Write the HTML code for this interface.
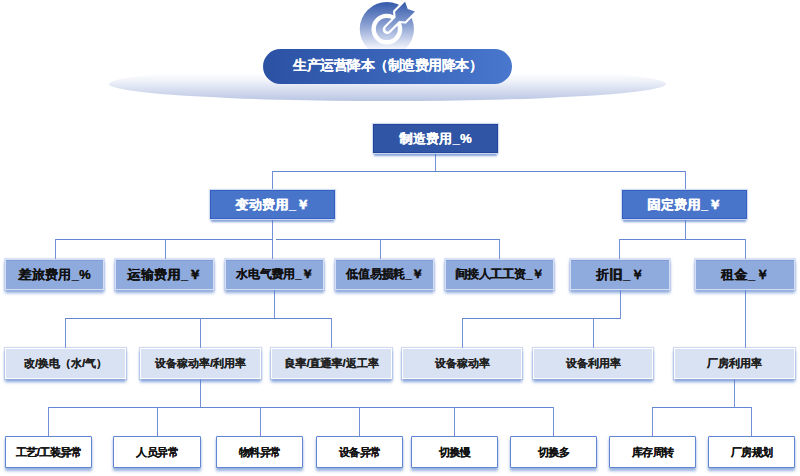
<!DOCTYPE html>
<html><head><meta charset="utf-8">
<style>
html,body{margin:0;padding:0;background:#fff;}
body{width:800px;height:476px;position:relative;overflow:hidden;font-family:"Liberation Sans",sans-serif;}
i{position:absolute;display:block;background:#6386d3;}
i.v{background:#7290d8;}
.box{position:absolute;box-sizing:border-box;display:flex;align-items:center;justify-content:center;font-weight:bold;white-space:nowrap;text-shadow:0.35px 0 0 currentColor;padding-top:1px;}
.l1{background:#2F55A4;color:#fff;font-size:13px;letter-spacing:0.3px;border:1px solid #23449a;box-shadow:0 0 0 1px rgba(208,218,240,.95),0 4px 2px -1px rgba(68,114,196,.65),0 0 2px 1px rgba(68,114,196,.12);}
.l2{background:#4874CA;color:#fff;font-size:13px;letter-spacing:0.3px;border:1px solid #3460c6;box-shadow:0 0 0 1px rgba(208,218,240,.95),0 4px 2px -1px rgba(68,114,196,.65),0 0 2px 1px rgba(68,114,196,.12);}
.l3{background:#8FAADC;color:#111;font-size:13px;letter-spacing:0.3px;border:1px solid #d5def3;box-shadow:inset 0 1px 0 #7f9dd9,0 0 1px 1px rgba(150,175,225,.35),0 3px 3px 0 rgba(68,114,196,.6);}
.l3.t{letter-spacing:0.6px;}
.l3.s{font-size:12px;letter-spacing:-0.25px;padding-top:0;}
.l4{background:#D9E2F3;color:#222;font-size:11px;letter-spacing:0;padding-top:0;border:1px solid #fff;box-shadow:0 0 1px 1px rgba(150,175,225,.45),0 3px 3px 0 rgba(68,114,196,.65);}
.l5{background:#fff;color:#111;font-size:11px;letter-spacing:-0.5px;border:1px solid #5f85d3;border-radius:1px;box-shadow:0 3px 3px 0 rgba(68,114,196,.55),0 0 1px rgba(68,114,196,.3);}
.ell{position:absolute;left:108.5px;top:67px;width:557px;height:34px;border-radius:50%;
background:linear-gradient(#fff 0%,#fff 18%,#eef1f9 42%,#b9c5e3 100%);}
.banner{position:absolute;left:263px;top:48.5px;width:249px;height:35.5px;border-radius:17.75px;
background:linear-gradient(90deg,#2B51A3,#4877CD);color:#fff;font-size:14px;letter-spacing:-0.5px;text-shadow:0.35px 0 0 #fff;font-weight:bold;display:flex;align-items:center;justify-content:center;}
</style></head><body>
<div class="ell"></div>
<svg style="position:absolute;left:0;top:0" width="800" height="60" viewBox="0 0 800 60">
<defs><linearGradient id="g" gradientUnits="userSpaceOnUse" x1="0" y1="2" x2="0" y2="50"><stop offset="0" stop-color="#3459ab"/><stop offset="0.5" stop-color="#8ea3d4"/><stop offset="1" stop-color="#f8f9fd"/></linearGradient></defs>
<circle cx="386.85" cy="29.1" r="27.1" fill="url(#g)"/>
<circle cx="386.85" cy="29.1" r="13.2" fill="none" stroke="#fff" stroke-width="4.4"/>
<path d="M387.20,29.45 L401.35,15.31" stroke="#fff" stroke-width="9" stroke-linecap="round"/>
<path d="M395.69,17.43 L395.12,11.63 L405.09,1.66 L407.71,8.95 L414.99,11.56 L405.02,21.53 L399.22,20.97 Z" fill="#fff" stroke="#fff" stroke-width="4.2" stroke-linejoin="round"/>
<path d="M387.63,29.03 L401.35,15.31" stroke="url(#g)" stroke-width="4.8" stroke-linecap="round"/>
<path d="M395.69,17.43 L395.12,11.63 L405.09,1.66 L407.71,8.95 L414.99,11.56 L405.02,21.53 L399.22,20.97 Z" fill="url(#g)"/>
</svg>
<div class="banner">生产运营降本（制造费用降本）</div>
<i class="v" style="left:435px;top:153px;width:1px;height:19px"></i>
<i class="h" style="left:272px;top:171px;width:414px;height:1px"></i>
<i class="v" style="left:272px;top:171px;width:1px;height:19px"></i>
<i class="v" style="left:685px;top:171px;width:1px;height:19px"></i>
<i class="v" style="left:272px;top:219px;width:1px;height:40px"></i>
<i class="h" style="left:55px;top:239px;width:218px;height:1px"></i>
<i class="h" style="left:276px;top:239px;width:224px;height:1px"></i>
<i class="v" style="left:55px;top:239px;width:1px;height:20px"></i>
<i class="v" style="left:165px;top:239px;width:1px;height:20px"></i>
<i class="v" style="left:380px;top:239px;width:1px;height:20px"></i>
<i class="v" style="left:499px;top:239px;width:1px;height:20px"></i>
<i class="v" style="left:685px;top:219px;width:1px;height:21px"></i>
<i class="h" style="left:619px;top:239px;width:127px;height:1px"></i>
<i class="v" style="left:619px;top:239px;width:1px;height:20px"></i>
<i class="v" style="left:745px;top:239px;width:1px;height:20px"></i>
<i class="v" style="left:274px;top:290px;width:1px;height:29px"></i>
<i class="h" style="left:65px;top:318px;width:267px;height:1px"></i>
<i class="v" style="left:65px;top:318px;width:1px;height:30px"></i>
<i class="v" style="left:200px;top:318px;width:1px;height:30px"></i>
<i class="v" style="left:331px;top:318px;width:1px;height:30px"></i>
<i class="v" style="left:620px;top:290px;width:1px;height:29px"></i>
<i class="h" style="left:462px;top:318px;width:159px;height:1px"></i>
<i class="v" style="left:462px;top:318px;width:1px;height:30px"></i>
<i class="v" style="left:593px;top:318px;width:1px;height:30px"></i>
<i class="v" style="left:745px;top:290px;width:1px;height:58px"></i>
<i class="v" style="left:200px;top:379px;width:1px;height:29px"></i>
<i class="h" style="left:48px;top:407px;width:506px;height:1px"></i>
<i class="v" style="left:48px;top:407px;width:1px;height:29px"></i>
<i class="v" style="left:157px;top:407px;width:1px;height:29px"></i>
<i class="v" style="left:260px;top:407px;width:1px;height:29px"></i>
<i class="v" style="left:359px;top:407px;width:1px;height:29px"></i>
<i class="v" style="left:454px;top:407px;width:1px;height:29px"></i>
<i class="v" style="left:553px;top:407px;width:1px;height:29px"></i>
<i class="v" style="left:734px;top:379px;width:1px;height:29px"></i>
<i class="h" style="left:652px;top:407px;width:100px;height:1px"></i>
<i class="v" style="left:652px;top:407px;width:1px;height:29px"></i>
<i class="v" style="left:751px;top:407px;width:1px;height:29px"></i>
<div class="box l1" style="left:373px;top:124px;width:125px;height:29px">制造费用_%</div>
<div class="box l2" style="left:210px;top:190px;width:125px;height:29px">变动费用_￥</div>
<div class="box l2" style="left:622px;top:190px;width:125px;height:29px">固定费用_￥</div>
<div class="box l3" style="left:5px;top:259px;width:99px;height:31px">差旅费用_%</div>
<div class="box l3" style="left:115px;top:259px;width:99px;height:31px">运输费用_￥</div>
<div class="box l3 s" style="left:225px;top:259px;width:99px;height:31px">水电气费用_￥</div>
<div class="box l3 s" style="left:335px;top:259px;width:99px;height:31px">低值易损耗_￥</div>
<div class="box l3 s" style="left:445px;top:259px;width:109px;height:31px">间接人工工资_￥</div>
<div class="box l3 t" style="left:570px;top:259px;width:100px;height:31px">折旧_￥</div>
<div class="box l3 t" style="left:695px;top:259px;width:100px;height:31px">租金_￥</div>
<div class="box l4" style="left:5px;top:348px;width:121px;height:31px">改/换电（水/气）</div>
<div class="box l4" style="left:140px;top:348px;width:121px;height:31px">设备稼动率/利用率</div>
<div class="box l4" style="left:271px;top:348px;width:121px;height:31px">良率/直通率/返工率</div>
<div class="box l4" style="left:402px;top:348px;width:120px;height:31px">设备稼动率</div>
<div class="box l4" style="left:533px;top:348px;width:120px;height:31px">设备利用率</div>
<div class="box l4" style="left:674px;top:348px;width:121px;height:31px">厂房利用率</div>
<div class="box l5" style="left:5px;top:436px;width:87px;height:32px">工艺/工装异常</div>
<div class="box l5" style="left:113px;top:436px;width:88px;height:32px">人员异常</div>
<div class="box l5" style="left:216px;top:436px;width:87px;height:32px">物料异常</div>
<div class="box l5" style="left:316px;top:436px;width:87px;height:32px">设备异常</div>
<div class="box l5" style="left:411px;top:436px;width:87px;height:32px">切换慢</div>
<div class="box l5" style="left:510px;top:436px;width:87px;height:32px">切换多</div>
<div class="box l5" style="left:609px;top:436px;width:87px;height:32px">库存周转</div>
<div class="box l5" style="left:708px;top:436px;width:87px;height:32px">厂房规划</div>
</body></html>
